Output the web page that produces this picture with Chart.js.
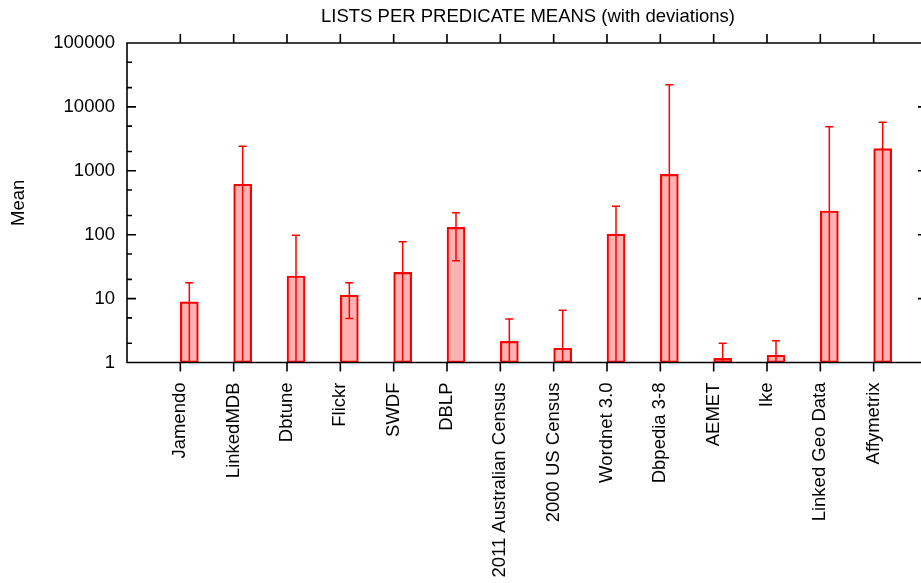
<!DOCTYPE html>
<html>
<head>
<meta charset="utf-8">
<script src="https://cdn.jsdelivr.net/npm/chart.js@4/dist/chart.umd.min.js"></script>
<style>
  html, body { margin: 0; padding: 0; background: #fff; overflow: hidden; }
  canvas { display: block; }
</style>
</head>
<body>
<canvas id="c" width="935" height="583" style="width:935px;height:583px"></canvas>
<script>
// Datasets and their mean list count per predicate, with standard deviations
const categories = ["Jamendo", "LinkedMDB", "Dbtune", "Flickr", "SWDF", "DBLP",
  "2011 Australian Census", "2000 US Census", "Wordnet 3.0", "Dbpedia 3-8",
  "AEMET", "Ike", "Linked Geo Data", "Affymetrix"];
const means = [8.9, 615, 22.6, 11.3, 25.8, 130, 2.14, 1.67, 102, 880, 1.16, 1.30, 235, 2220];
const deviations = [8.8, 1800, 75, 6.4, 52, 91, 2.66, 4.89, 176, 21370, 0.84, 0.89, 4665, 3520];
const yTickValues = [1, 10, 100, 1000, 10000, 100000];
const yMinorFactors = [2, 5];

const FONT = "'Liberation Sans', Arial, Helvetica, sans-serif";
const FONT_SIZE = 18.5;
const RED = '#ff0000';
const BAR_W = 18;
const SHIFT = BAR_W / 2; // boxes start at their tick and extend to the right

Chart.defaults.font.family = FONT;
Chart.defaults.font.size = FONT_SIZE;
Chart.defaults.color = '#000';

const frame = {
  id: 'frame',
  beforeDatasetsDraw(chart) {
    chart.ctx.save();
    chart.ctx.translate(SHIFT, 0);
  },
  afterDatasetsDraw(chart) {
    const ctx = chart.ctx;
    ctx.restore();
    const x = chart.scales.x, y = chart.scales.y;
    const bottom = chart.chartArea.bottom;
    // error bars
    ctx.save();
    ctx.strokeStyle = RED;
    ctx.lineWidth = 1.5;
    means.forEach((m, i) => {
      const cx = x.getPixelForValue(i) + SHIFT;
      const hi = m + deviations[i];
      const lo = m - deviations[i];
      const yHi = y.getPixelForValue(hi);
      const yLo = lo >= 1 ? y.getPixelForValue(lo) : bottom;
      ctx.beginPath();
      ctx.moveTo(cx, yLo);
      ctx.lineTo(cx, yHi);
      ctx.moveTo(cx - 4, yHi);
      ctx.lineTo(cx + 4, yHi);
      if (lo >= 1) {
        ctx.moveTo(cx - 4, yLo);
        ctx.lineTo(cx + 4, yLo);
      }
      ctx.stroke();
    });
    ctx.restore();
  },
  afterDraw(chart) {
    const ctx = chart.ctx;
    const {left, right, top, bottom} = chart.chartArea;
    const x = chart.scales.x, y = chart.scales.y;
    ctx.save();
    ctx.strokeStyle = '#000';
    ctx.lineWidth = 1.6;
    ctx.beginPath();
    ctx.rect(left, top, right - left, bottom - top);
    // y major and minor ticks, pointing inward on both sides
    yTickValues.forEach((v, k) => {
      const py = y.getPixelForValue(v);
      ctx.moveTo(left, py); ctx.lineTo(left + 9, py);
      ctx.moveTo(right, py); ctx.lineTo(right - 9, py);
      if (k < yTickValues.length - 1) {
        yMinorFactors.forEach(f => {
          const pm = y.getPixelForValue(v * f);
          ctx.moveTo(left, pm); ctx.lineTo(left + 5, pm);
          ctx.moveTo(right, pm); ctx.lineTo(right - 5, pm);
        });
      }
    });
    // x ticks, pointing outward at bottom and top
    categories.forEach((c, i) => {
      const px = x.getPixelForValue(i);
      ctx.moveTo(px, bottom); ctx.lineTo(px, bottom + 9);
      ctx.moveTo(px, top); ctx.lineTo(px, top - 9);
    });
    ctx.stroke();

    // title and y axis label
    ctx.fillStyle = '#000';
    ctx.font = FONT_SIZE + 'px ' + FONT;
    ctx.textAlign = 'center';
    ctx.textBaseline = 'middle';
    ctx.fillText('LISTS PER PREDICATE MEANS (with deviations)', 528, 17);
    ctx.translate(19, (top + bottom) / 2);
    ctx.rotate(-Math.PI / 2);
    ctx.fillText('Mean', 0, 0);
    ctx.restore();
  }
};

new Chart(document.getElementById('c'), {
  type: 'bar',
  data: {
    datasets: [{
      data: categories.map((c, i) => ({x: i, y: means[i]})),
      backgroundColor: 'rgba(255, 0, 0, 0.3)',
      borderColor: RED,
      borderWidth: 1.5,
      borderSkipped: false,
      barThickness: BAR_W
    }]
  },
  options: {
    responsive: false,
    devicePixelRatio: 1,
    animation: false,
    layout: { padding: { top: 43, right: 8, left: 0, bottom: 0 } },
    plugins: { legend: { display: false }, tooltip: { enabled: false }, title: { display: false } },
    scales: {
      x: {
        type: 'linear',
        min: -1,
        max: 14,
        offset: false,
        grid: { display: false, drawTicks: false, offset: false },
        border: { display: false },
        afterBuildTicks(scale) {
          scale.ticks = categories.map((c, i) => ({ value: i }));
        },
        afterFit(scale) { scale.height = 220.5; },
        ticks: {
          autoSkip: false,
          minRotation: 90,
          maxRotation: 90,
          padding: 20,
          callback: (v) => categories[v]
        }
      },
      y: {
        type: 'logarithmic',
        min: 1,
        max: 100000,
        grid: { display: false, drawTicks: false },
        border: { display: false },
        afterBuildTicks(scale) {
          scale.ticks = yTickValues.map(v => ({ value: v, major: true }));
        },
        afterFit(scale) { scale.width = 127; },
        ticks: {
          padding: 12,
          callback: (v) => String(v)
        }
      }
    }
  },
  plugins: [frame]
});
</script>
</body>
</html>
